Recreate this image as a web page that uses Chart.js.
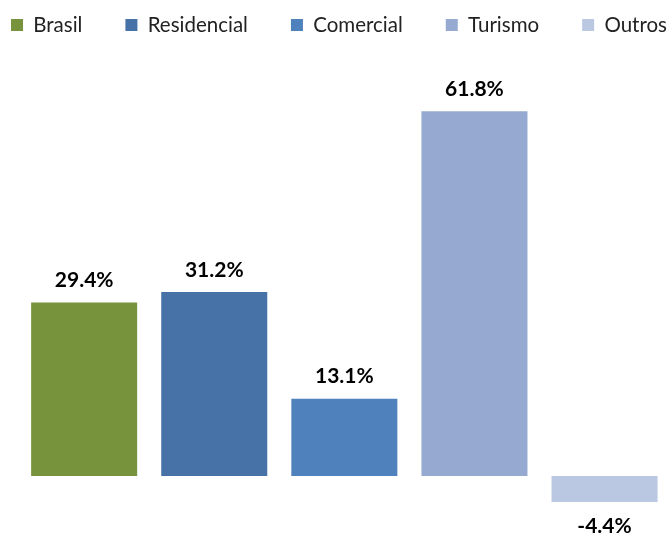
<!DOCTYPE html>
<html><head><meta charset="utf-8">
<script src="https://cdn.jsdelivr.net/npm/chart.js@4"></script>
<style>
html,body{margin:0;padding:0;overflow:hidden;background:#fff;width:667px;height:533px}
#wrap{position:absolute;left:-111px;top:0;width:900px;height:535px}
</style></head><body>
<div id="wrap"><canvas id="c" width="900" height="535"></canvas></div>
<script>
const categories = ['Brasil', 'Residencial', 'Comercial', 'Turismo', 'Outros'];
const values = [29.4, 31.2, 13.1, 61.8, -4.4];
const colors = ['#77933C', '#4672A7', '#4F81BD', '#96AAD1', '#BAC8E2'];
const yMin = -10, yMax = 73;

const LEGEND_PAD = 43;
const LEGEND_FONT = 20.5;

const datasets = categories.map((name, i) => ({
  label: name,
  data: values.map((v, j) => (j === i ? v : null)),
  backgroundColor: colors[i],
  borderWidth: 0,
  grouped: false,
  categoryPercentage: 1,
  barPercentage: 0.815
}));

const labelPlugin = {
  id: 'valueLabels',
  afterDatasetsDraw(chart) {
    const ctx = chart.ctx;
    ctx.save();
    ctx.font = 'bold 21px Lato';
    ctx.fillStyle = '#000';
    ctx.textAlign = 'center';
    ctx.textBaseline = 'middle';
    chart.data.datasets.forEach((ds, i) => {
      const meta = chart.getDatasetMeta(i);
      meta.data.forEach((bar, j) => {
        const v = ds.data[j];
        if (v == null) return;
        const y = v >= 0 ? bar.y - 22 : bar.y + 24;
        ctx.fillText(v.toFixed(1) + '%', bar.x, y);
      });
    });
    ctx.restore();
  }
};

new Chart(document.getElementById('c'), {
  type: 'bar',
  data: { labels: categories, datasets },
  plugins: [labelPlugin],
  options: {
    responsive: false,
    animation: false,
    layout: { padding: { top: 25 - LEGEND_FONT / 2 - LEGEND_PAD, left: 0, right: 0, bottom: 0 } },
    plugins: {
      legend: {
        position: 'top',
        labels: {
          boxWidth: 12,
          boxHeight: 12,
          padding: LEGEND_PAD,
          color: '#222',
          font: { family: 'Lato', size: LEGEND_FONT }
        }
      },
      tooltip: { enabled: false }
    },
    scales: {
      x: { type: 'category', display: false, offset: true },
      y: {
        position: 'left', min: yMin, max: yMax,
        ticks: { display: false }, grid: { display: false }, border: { display: false },
        afterFit(s) { s.width = 130.1; }
      },
      y2: {
        position: 'right',
        ticks: { display: false }, grid: { display: false }, border: { display: false },
        afterFit(s) { s.width = 119.4; }
      }
    }
  }
});
</script>
</body></html>
